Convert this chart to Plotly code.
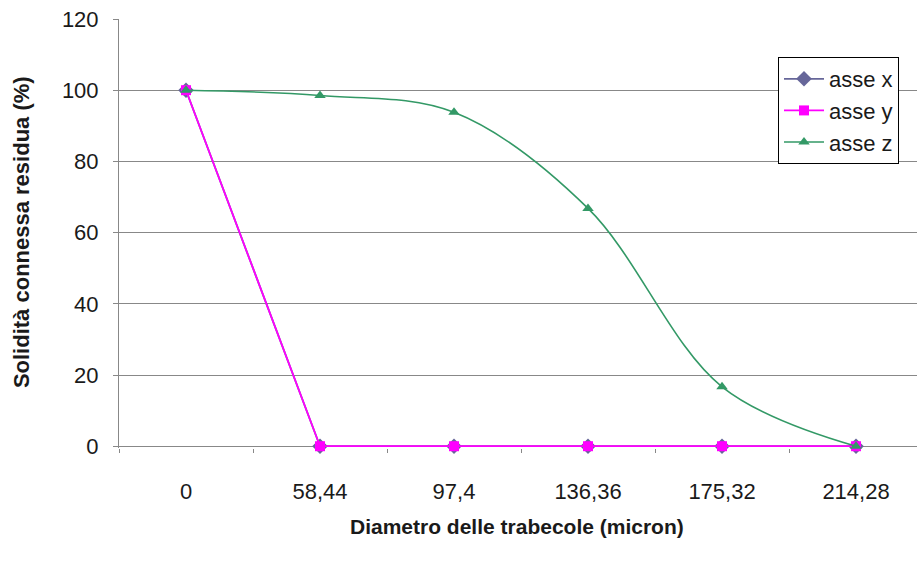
import plotly.graph_objects as go

# Diametro delle trabecole (micron)
categories = ["0", "58,44", "97,4", "136,36", "175,32", "214,28"]
asse_x = [100, 0, 0, 0, 0, 0]
asse_y = [100, 0, 0, 0, 0, 0]
asse_z = [100, 98.5, 93.8, 66.8, 16.7, 0]
y_ticks = [0, 20, 40, 60, 80, 100, 120]

FONT = "Liberation Sans, Arial, sans-serif"
TEXT = "#1a1a1a"
AXIS = "#888888"

# plot area: value 120 sits at y=19 px, value 0 at y=446 px
PX_PER_UNIT = (446 - 19) / 120
Y_LOW = -0.5  # small headroom so the series lying on 0 are not clipped

fig = go.Figure()
fig.add_trace(go.Scatter(
    x=categories, y=asse_x, name="asse x", mode="lines+markers", cliponaxis=False,
    line=dict(color="#666699", width=1.8),
    marker=dict(symbol="diamond", size=12, color="#666699"),
))
fig.add_trace(go.Scatter(
    x=categories, y=asse_y, name="asse y", mode="lines+markers", cliponaxis=False,
    line=dict(color="#FF00FF", width=1.8),
    marker=dict(symbol="square", size=10, color="#FF00FF"),
))
fig.add_trace(go.Scatter(
    x=categories, y=asse_z, name="asse z", mode="lines+markers", cliponaxis=False,
    line=dict(color="#339966", width=1.6, shape="spline", smoothing=1.0),
    marker=dict(symbol="triangle-up", size=10, color="#339966"),
))

bottom_px = 446 - Y_LOW * PX_PER_UNIT
plot_h = bottom_px - 19

fig.update_layout(
    width=917, height=564,
    margin=dict(l=119, r=0, t=19, b=564 - bottom_px),
    paper_bgcolor="white", plot_bgcolor="white",
    font=dict(family=FONT, size=22, color=TEXT),
    showlegend=True,
    legend=dict(
        x=(778 - 119) / 798, y=(bottom_px - 57) / plot_h, xanchor="left", yanchor="top",
        bordercolor="#000000", borderwidth=1, bgcolor="white",
        font=dict(family=FONT, size=22, color=TEXT),
        tracegroupgap=0, itemwidth=40,
    ),
    xaxis=dict(
        type="category", range=[-0.5, 5.455],
        showgrid=False, zeroline=False, layer="below traces",
        showline=False,
        ticks="outside", ticklen=4, tickcolor=AXIS, tickson="boundaries",
        ticklabelstandoff=28,
        tickfont=dict(family=FONT, size=22, color=TEXT),
    ),
    yaxis=dict(
        range=[Y_LOW, 120], tickvals=y_ticks,
        showgrid=True, gridcolor=AXIS, gridwidth=1,
        zeroline=True, zerolinecolor=AXIS, zerolinewidth=1,
        layer="below traces",
        showline=True, linecolor=AXIS, linewidth=1,
        ticks="outside", ticklen=5, tickcolor=AXIS,
        ticklabelstandoff=10,
        tickfont=dict(family=FONT, size=22, color=TEXT),
    ),
    annotations=[
        dict(text="<b>Diametro delle trabecole (micron)</b>", xref="paper", yref="paper",
             x=(517 - 119) / 798, y=-(526 - bottom_px) / plot_h, xanchor="center", yanchor="middle",
             showarrow=False, font=dict(family=FONT, size=21, color=TEXT)),
        dict(text="<b>Solidità connessa residua (%)</b>", xref="paper", yref="paper",
             x=-(119 - 21) / 798, y=(bottom_px - 232) / plot_h, xanchor="center", yanchor="middle",
             textangle=-90, showarrow=False, font=dict(family=FONT, size=22, color=TEXT)),
    ],
)

fig.write_html("out.html")
